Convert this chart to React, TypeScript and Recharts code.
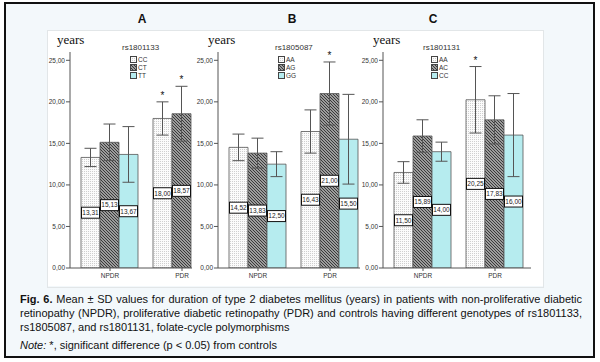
import React from "react";
import {
  BarChart,
  Bar,
  XAxis,
  YAxis,
  ErrorBar,
  LabelList,
  Legend,
} from "recharts";

// x categories
const groups = ["NPDR", "PDR"];

// panel A - rs1801133 (TT in PDR hidden behind panel B)
const genotypesA = ["CC", "CT", "TT"];
const meanA1 = [13.31, 18.0];
const meanA2 = [15.13, 18.57];
const meanA3 = [13.67, null];
const sdA1 = [1.1, 2.0];
const sdA2 = [2.2, 3.3];
const sdA3 = [3.35, null];
const sigA1 = [false, true];
const sigA2 = [false, true];
const sigA3 = [false, false];

// panel B - rs1805087
const genotypesB = ["AA", "AG", "GG"];
const meanB1 = [14.52, 16.43];
const meanB2 = [13.83, 21.0];
const meanB3 = [12.5, 15.5];
const sdB1 = [1.6, 2.6];
const sdB2 = [1.8, 3.8];
const sdB3 = [1.5, 5.4];
const sigB1 = [false, false];
const sigB2 = [false, true];
const sigB3 = [false, false];

// panel C - rs1801131
const genotypesC = ["AA", "AC", "CC"];
const meanC1 = [11.5, 20.25];
const meanC2 = [15.89, 17.83];
const meanC3 = [14.0, 16.0];
const sdC1 = [1.3, 4.0];
const sdC2 = [1.95, 2.9];
const sdC3 = [1.15, 5.0];
const sigC1 = [false, true];
const sigC2 = [false, false];
const sigC3 = [false, false];

const yTicks = [0, 5, 10, 15, 20, 25];

const fmt = (v: number) => v.toFixed(2).replace(".", ",");

const buildRows = (
  m1: any[], m2: any[], m3: any[],
  s1: any[], s2: any[], s3: any[]
) =>
  groups.map((g, i) => ({
    group: g,
    g1: m1[i], g2: m2[i], g3: m3[i],
    e1: s1[i], e2: s2[i], e3: s3[i],
  }));

const BAR_STROKE = "#555";
const CYAN = "#b6ecef";

// white box with the mean in the middle of the bar
const ValueBox = (props: any) => {
  const { x, y, width, height, value } = props;
  if (value == null) return null;
  const cx = x + width / 2;
  const cy = y + height / 2;
  return (
    <g>
      <rect x={x + 0.5} y={cy - 5.5} width={width - 1} height={11} fill="#fff" stroke="#111" strokeWidth={1} />
      <text x={cx} y={cy + 2.3} textAnchor="middle" fontSize={6.5} fill="#222" fontFamily="Liberation Sans, Arial">
        {fmt(value)}
      </text>
    </g>
  );
};

const makeStar = (sds: any[], sig: boolean[]) => (props: any) => {
  const { x, y, width, height, value, index } = props;
  if (value == null || !sig[index]) return null;
  const capY = y - sds[index] * (height / value);
  return (
    <text x={x + width / 2} y={capY - 3} textAnchor="middle" fontSize={10} fill="#111" fontFamily="Liberation Sans, Arial">
      *
    </text>
  );
};

const PatternDefs = ({ id }: { id: string }) => (
  <defs>
    <pattern id={`dots-${id}`} patternUnits="userSpaceOnUse" width="2" height="2">
      <rect width="2" height="2" fill="#fbfbfb" />
      <rect width="1" height="1" fill="#cfcfcf" />
    </pattern>
    <pattern id={`hatch-${id}`} patternUnits="userSpaceOnUse" width="3" height="3">
      <rect width="3" height="3" fill="#9c9c9c" />
      <path d="M-1,-1 L4,4 M-1,2 L1,4 M2,-1 L4,1" stroke="#3a3a3a" strokeWidth="1" />
    </pattern>
  </defs>
);

const legendContent = (title: string, names: string[], id: string, indent: number) => () => {
  const fills = [`url(#dots-${id})`, `url(#hatch-${id})`, CYAN];
  return (
    <div style={{ fontFamily: "Liberation Sans, Arial", color: "#333" }}>
      <div style={{ fontSize: 8, lineHeight: "10px", whiteSpace: "nowrap" }}>{title}</div>
      <div style={{ marginTop: 2, marginLeft: indent }}>
        {names.map((n, i) => (
          <div key={n} style={{ display: "flex", alignItems: "center", height: 8, fontSize: 6.5 }}>
            <svg width={7} height={7} style={{ marginRight: 1 }}>
              <rect x={0.5} y={0.5} width={6} height={6} fill={fills[i]} stroke="#444" strokeWidth={1} />
            </svg>
            {n}
          </div>
        ))}
      </div>
    </div>
  );
};

const Panel = ({
  id, left, yWidth, right, rows, names, title, legendLeft, legendIndent, yearsLeft,
  sds, sigs,
}: any) => {
  const fills = [`url(#dots-${id})`, `url(#hatch-${id})`, CYAN];
  const width = yWidth + 148 + right;
  return (
    <div style={{ position: "absolute", left, top: 31, width, height: 255, background: "#fff" }}>
      <div
        style={{
          position: "absolute", left: yearsLeft, top: 1, fontFamily: "Liberation Serif, Times New Roman",
          fontSize: 13, color: "#111", zIndex: 2,
        }}
      >
        years
      </div>
      <BarChart
        width={width}
        height={255}
        data={rows}
        margin={{ top: 21, right, left: 0, bottom: 0 }}
        barCategoryGap={7}
        barGap={0}
      >
        <PatternDefs id={id} />
        <XAxis
          dataKey="group"
          padding={{ left: 4, right: 0 }}
          height={18}
          tickSize={3}
          tick={{ fontSize: 6.5, fill: "#333", fontFamily: "Liberation Sans, Arial" }}
          axisLine={{ stroke: "#555" }}
          tickLine={{ stroke: "#555" }}
        />
        <YAxis
          type="number"
          domain={[0, 26]}
          ticks={yTicks}
          width={yWidth}
          tickSize={4}
          tickMargin={1}
          tickFormatter={fmt}
          tick={{ fontSize: 6.5, fill: "#333", fontFamily: "Liberation Sans, Arial" }}
          axisLine={{ stroke: "#555" }}
          tickLine={{ stroke: "#555" }}
          allowDataOverflow
        />
        <Legend
          layout="vertical"
          align="center"
          verticalAlign="middle"
          wrapperStyle={{ left: legendLeft, top: 12, width: "auto" }}
          content={legendContent(title, names, id, legendIndent)}
        />
        {["g1", "g2", "g3"].map((k, i) => (
          <Bar
            key={k}
            dataKey={k}
            fill={fills[i]}
            stroke={BAR_STROKE}
            strokeWidth={0.8}
            isAnimationActive={false}
          >
            <ErrorBar dataKey={`e${i + 1}`} width={6} stroke="#555" strokeWidth={1} />
            <LabelList dataKey={k} content={ValueBox} />
            <LabelList dataKey={k} content={makeStar(sds[i], sigs[i])} />
          </Bar>
        ))}
      </BarChart>
    </div>
  );
};

const PanelTitle = ({ x, text }: { x: number; text: string }) => (
  <div
    style={{
      position: "absolute", left: x - 20, width: 40, top: 12, textAlign: "center",
      fontFamily: "Liberation Sans, Arial", fontWeight: "bold", fontSize: 12, color: "#111",
    }}
  >
    {text}
  </div>
);

const lineStyle: React.CSSProperties = {
  display: "block",
  textAlign: "justify",
  textAlignLast: "justify",
  whiteSpace: "nowrap",
};

export default function App() {
  return (
    <div style={{ position: "absolute", left: 0, top: 0, width: 600, height: 362, background: "#fff" }}>
      <div
        style={{
          position: "absolute", left: 4, top: 2, width: 587, height: 352,
          border: "2px solid #111", background: "#f3f8fb",
        }}
      />
      <PanelTitle x={142} text="A" />
      <PanelTitle x={292} text="B" />
      <PanelTitle x={433} text="C" />

      <Panel
        id="a" left={48} yWidth={22} right={12}
        rows={buildRows(meanA1, meanA2, meanA3, sdA1, sdA2, sdA3)}
        names={genotypesA} title="rs1801133" legendLeft={74} legendIndent={8} yearsLeft={9}
        sds={[sdA1, sdA2, sdA3]} sigs={[sigA1, sigA2, sigA3]}
      />
      <Panel
        id="b" left={192} yWidth={26} right={8}
        rows={buildRows(meanB1, meanB2, meanB3, sdB1, sdB2, sdB3)}
        names={genotypesB} title="rs1805087" legendLeft={83} legendIndent={3} yearsLeft={16}
        sds={[sdB1, sdB2, sdB3]} sigs={[sigB1, sigB2, sigB3]}
      />
      <Panel
        id="c" left={360} yWidth={23} right={12}
        rows={buildRows(meanC1, meanC2, meanC3, sdC1, sdC2, sdC3)}
        names={genotypesC} title="rs1801131" legendLeft={63} legendIndent={8} yearsLeft={13}
        sds={[sdC1, sdC2, sdC3]} sigs={[sigC1, sigC2, sigC3]}
      />
      <div
        style={{
          position: "absolute", left: 47, top: 30, width: 495, height: 256,
          border: "1px solid #e2e6e8", pointerEvents: "none",
        }}
      />

      <div
        style={{
          position: "absolute", left: 20, top: 292, width: 562,
          fontFamily: "Liberation Sans, Arial", fontSize: 11, lineHeight: "14px", color: "#111",
        }}
      >
        <span style={lineStyle}>
          <b>Fig. 6.</b> Mean ± SD values for duration of type 2 diabetes mellitus (years) in patients with non-proliferative diabetic
        </span>
        <span style={lineStyle}>
          retinopathy (NPDR), proliferative diabetic retinopathy (PDR) and controls having different genotypes of rs1801133,
        </span>
        <span style={{ display: "block" }}>rs1805087, and rs1801131, folate-cycle polymorphisms</span>
        <span style={{ display: "block", marginTop: 4 }}>
          <i>Note:</i> *, significant difference (p &lt; 0.05) from controls
        </span>
      </div>
    </div>
  );
}
